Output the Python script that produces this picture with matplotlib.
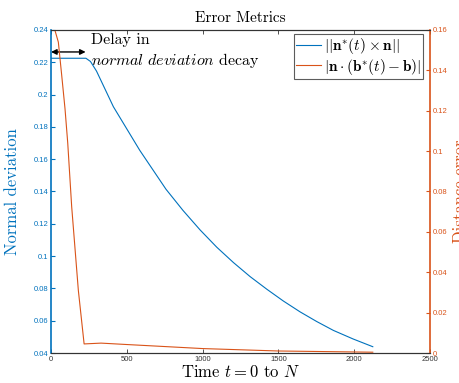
import matplotlib
matplotlib.use("Agg")
import matplotlib.pyplot as plt

# === data ===
t_norm = [0, 230, 260, 300, 411, 585, 758, 870, 983, 1093, 1203, 1313, 1423,
          1532, 1642, 1752, 1862, 1992, 2122]
normal_dev = [0.2225, 0.2225, 0.2205, 0.2145, 0.1925, 0.1655, 0.1414, 0.1283, 0.1162,
              0.1055, 0.0960, 0.0873, 0.0795, 0.0722, 0.0655, 0.0595, 0.0540, 0.0487, 0.0439]

t_dist = [0, 25, 48, 70, 92, 110, 136, 180, 218, 330, 500, 1000, 1500, 2122]
dist_err = [0.16, 0.16, 0.154, 0.1377, 0.121, 0.104, 0.0725, 0.031, 0.0045, 0.0049, 0.0042, 0.0022, 0.0010, 0.0004]

left_ticks = [0.04, 0.06, 0.08, 0.1, 0.12, 0.14, 0.16, 0.18, 0.2, 0.22, 0.24]
right_ticks = [0, 0.02, 0.04, 0.06, 0.08, 0.1, 0.12, 0.14, 0.16]
x_ticks = [0, 500, 1000, 1500, 2000, 2500]

BLUE = "#0072BD"
RED = "#D95319"

plt.rcParams["mathtext.fontset"] = "cm"
plt.rcParams["axes.unicode_minus"] = False
serif = "cmr10"
tickfont = "Liberation Sans"

fig = plt.figure(figsize=(4.6, 3.83), dpi=100)
ax1 = fig.add_axes([0.111, 0.0783, 0.824, 0.8434])
ax2 = ax1.twinx()

l1, = ax1.plot(t_norm, normal_dev, color=BLUE, lw=0.8)
l2, = ax2.plot(t_dist, dist_err, color=RED, lw=0.8)

ax1.set_xlim(0, 2500)
ax1.set_ylim(0.04, 0.24)
ax2.set_ylim(0, 0.16)
ax1.set_xticks(x_ticks)
ax1.set_xticklabels([str(v) for v in x_ticks], fontfamily=tickfont, fontsize=5.5, color="#333333")
ax1.set_yticks(left_ticks)
ax1.set_yticklabels([f"{v:g}" for v in left_ticks], fontfamily=tickfont, fontsize=5.5, color=BLUE)
ax2.set_yticks(right_ticks)
ax2.set_yticklabels([f"{v:g}" for v in right_ticks], fontfamily=tickfont, fontsize=5.5, color=RED)

ax1.tick_params(axis="x", direction="in", length=3, width=0.6, top=True, color="#333333", pad=2)
ax1.tick_params(axis="y", direction="in", length=3, width=0.8, color=BLUE, pad=2)
ax2.tick_params(axis="y", direction="in", length=3, width=0.8, color=RED, pad=2)

for ax in (ax1, ax2):
    ax.spines["top"].set_color("#333333")
    ax.spines["bottom"].set_color("#333333")
    ax.spines["top"].set_linewidth(0.8)
    ax.spines["bottom"].set_linewidth(0.8)
ax1.spines["left"].set_color(BLUE)
ax1.spines["left"].set_linewidth(1.2)
ax2.spines["right"].set_color(RED)
ax2.spines["right"].set_linewidth(1.2)
ax2.spines["left"].set_visible(False)
ax1.spines["right"].set_visible(False)

ax1.set_title("Error Metrics", fontfamily=serif, fontsize=11, pad=6)
ax1.set_xlabel(r"Time $t=0$ to $N$", fontfamily=serif, fontsize=12, labelpad=1)
ax1.set_ylabel("Normal deviation", fontfamily=serif, fontsize=12, color=BLUE, labelpad=10)
ax2.set_ylabel("Distance error", fontfamily=serif, fontsize=12, color=RED, labelpad=4)

# delay arrow + note
ax1.annotate("", xy=(0, 0.2264), xytext=(228, 0.2264),
             arrowprops=dict(arrowstyle="<|-|>", color="k", lw=1.0,
                             shrinkA=0, shrinkB=0, mutation_scale=8))
ax1.text(265, 0.2335, "Delay in", fontfamily=serif, fontsize=11.5, va="center")
ax1.text(265, 0.221, r"$\mathit{normal\ deviation}$ decay", fontfamily=serif, fontsize=11.5, va="center")

leg = ax2.legend([l1, l2],
                 [r"$||\mathbf{n}^{*}(t)\times\mathbf{n}||$",
                  r"$|\mathbf{n}\cdot(\mathbf{b}^{*}(t)-\mathbf{b})|$"],
                 loc="upper right", bbox_to_anchor=(0.99, 0.998), fontsize=11,
                 frameon=True, fancybox=False, handlelength=1.6, handletextpad=0.2,
                 borderpad=0.15, labelspacing=0.05, borderaxespad=0.2)
leg.get_frame().set_edgecolor("#333333")
leg.get_frame().set_linewidth(0.8)

fig.savefig("out.png", dpi=100)
